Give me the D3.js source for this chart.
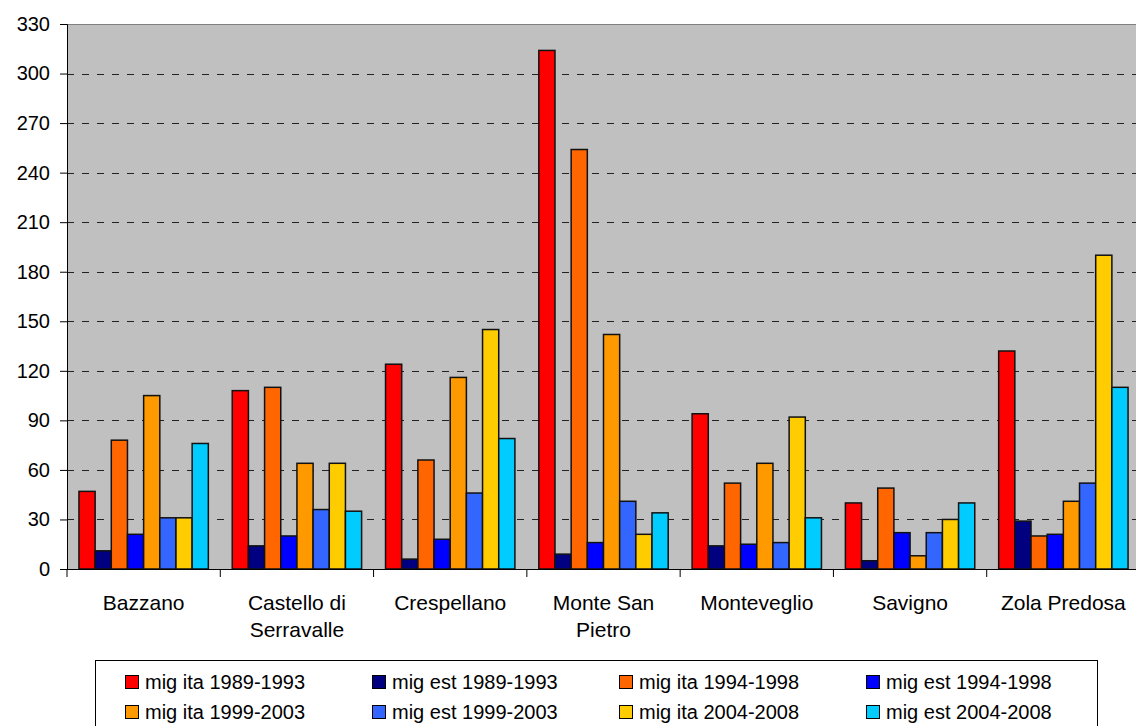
<!DOCTYPE html>
<html>
<head>
<meta charset="utf-8">
<script src="https://cdn.jsdelivr.net/npm/d3@7"></script>
<style>
  body { margin: 0; background: #fff; }
  svg { display: block; font-family: "Liberation Sans", Arial, sans-serif; }
</style>
</head>
<body>
<div class="chart"></div>
<script>
var svgWidth = 1136;
var svgHeight = 726;

// chart data
var towns = ["Bazzano", "Castello di\nSerravalle", "Crespellano", "Monte San\nPietro", "Monteveglio", "Savigno", "Zola Predosa"];
var seriesNames = ["mig ita 1989-1993", "mig est 1989-1993", "mig ita 1994-1998", "mig est 1994-1998",
  "mig ita 1999-2003", "mig est 1999-2003", "mig ita 2004-2008", "mig est 2004-2008"];
var seriesColors = ["#FF0000", "#000080", "#FF6600", "#0000FF", "#FF9900", "#3366FF", "#FFCC00", "#00CCFF"];

var migIta8993 = [47, 108, 124, 314, 94, 40, 132];
var migEst8993 = [11, 14, 6, 9, 14, 5, 29];
var migIta9498 = [78, 110, 66, 254, 52, 49, 20];
var migEst9498 = [21, 20, 18, 16, 15, 22, 21];
var migIta9903 = [105, 64, 116, 142, 64, 8, 41];
var migEst9903 = [31, 36, 46, 41, 16, 22, 52];
var migIta0408 = [31, 64, 145, 21, 92, 30, 190];
var migEst0408 = [76, 35, 79, 34, 31, 40, 110];

var yTicks = [0, 30, 60, 90, 120, 150, 180, 210, 240, 270, 300, 330];

var seriesValues = [migIta8993, migEst8993, migIta9498, migEst9498, migIta9903, migEst9903, migIta0408, migEst0408];

var margin = { top: 24, left: 67 };
var plotRight = 1140;
var plotBottom = 569;

var svg = d3.select(".chart")
  .append("svg")
  .attr("width", svgWidth)
  .attr("height", svgHeight);

var x0 = d3.scaleBand()
  .domain(towns)
  .range([margin.left, plotRight])
  .paddingInner(0.156)
  .paddingOuter(0.078);

var x1 = d3.scaleBand()
  .domain(d3.range(seriesNames.length))
  .range([0, x0.bandwidth()]);

var y = d3.scaleLinear()
  .domain([0, 330])
  .range([plotBottom, margin.top]);

// plot background
svg.append("rect")
  .attr("x", margin.left)
  .attr("y", margin.top)
  .attr("width", plotRight - margin.left)
  .attr("height", plotBottom - margin.top)
  .attr("fill", "#C0C0C0");

svg.append("line")
  .attr("x1", margin.left).attr("x2", plotRight)
  .attr("y1", margin.top + 0.5).attr("y2", margin.top + 0.5)
  .attr("stroke", "#808080");

// gridlines
svg.append("g")
  .selectAll("line")
  .data(yTicks.filter(d => d > 0 && d < 330))
  .enter()
  .append("line")
  .attr("x1", margin.left)
  .attr("x2", plotRight)
  .attr("y1", d => Math.round(y(d)) + 0.5)
  .attr("y2", d => Math.round(y(d)) + 0.5)
  .attr("stroke", "#222")
  .attr("stroke-dasharray", "7,8");

// bars
var groups = svg.append("g")
  .selectAll("g")
  .data(towns)
  .enter()
  .append("g")
  .attr("transform", d => `translate(${x0(d)},0)`);

groups.selectAll("rect")
  .data((d, i) => seriesValues.map((vals, s) => ({ s: s, v: vals[i] })))
  .enter()
  .append("rect")
  .attr("x", d => x1(d.s))
  .attr("y", d => y(d.v))
  .attr("width", x1.bandwidth())
  .attr("height", d => y(0) - y(d.v))
  .attr("fill", d => seriesColors[d.s])
  .attr("stroke", "#111")
  .attr("stroke-width", 1.5);

// y axis
var leftAxis = d3.axisLeft(y)
  .tickValues(yTicks)
  .tickSize(7)
  .tickPadding(10);

var yAxis = svg.append("g")
  .attr("transform", `translate(${margin.left},0)`)
  .call(leftAxis);

yAxis.selectAll("text")
  .attr("font-size", 20)
  .attr("font-family", "Liberation Sans, Arial, sans-serif")
  .attr("fill", "#000");
yAxis.select(".domain").attr("stroke", "#000");

// x axis line and ticks at group boundaries
svg.append("line")
  .attr("x1", margin.left).attr("x2", plotRight)
  .attr("y1", plotBottom + 0.5).attr("y2", plotBottom + 0.5)
  .attr("stroke", "#000");

var step = x0.step();
svg.append("g")
  .selectAll("line")
  .data(d3.range(towns.length + 1))
  .enter()
  .append("line")
  .attr("x1", i => margin.left + i * step)
  .attr("x2", i => margin.left + i * step)
  .attr("y1", plotBottom)
  .attr("y2", plotBottom + 8)
  .attr("stroke", "#000");

// category labels
var catLabels = svg.append("g")
  .selectAll("text")
  .data(towns)
  .enter()
  .append("text")
  .attr("x", d => x0(d) + x0.bandwidth() / 2)
  .attr("y", 610)
  .attr("text-anchor", "middle")
  .attr("font-size", 21)
  .attr("fill", "#000");

catLabels.each(function (d) {
  var t = d3.select(this);
  d.split("\n").forEach((line, i) => {
    t.append("tspan")
      .attr("x", t.attr("x"))
      .attr("dy", i === 0 ? 0 : 27)
      .text(line);
  });
});

// legend
var legend = svg.append("g");
legend.append("rect")
  .attr("x", 95.5)
  .attr("y", 660.5)
  .attr("width", 1002)
  .attr("height", 80)
  .attr("fill", "#fff")
  .attr("stroke", "#000");

var items = legend.selectAll("g.item")
  .data(seriesNames)
  .enter()
  .append("g")
  .attr("class", "item")
  .attr("transform", (d, i) => `translate(${125 + (i % 4) * 247},${i < 4 ? 682 : 712})`);

items.append("rect")
  .attr("x", 0.5)
  .attr("y", -6.5)
  .attr("width", 13)
  .attr("height", 13)
  .attr("fill", (d, i) => seriesColors[i])
  .attr("stroke", "#000");

items.append("text")
  .attr("x", 20)
  .attr("y", 7)
  .attr("font-size", 20)
  .attr("fill", "#000")
  .text(d => d);
</script>
</body>
</html>
